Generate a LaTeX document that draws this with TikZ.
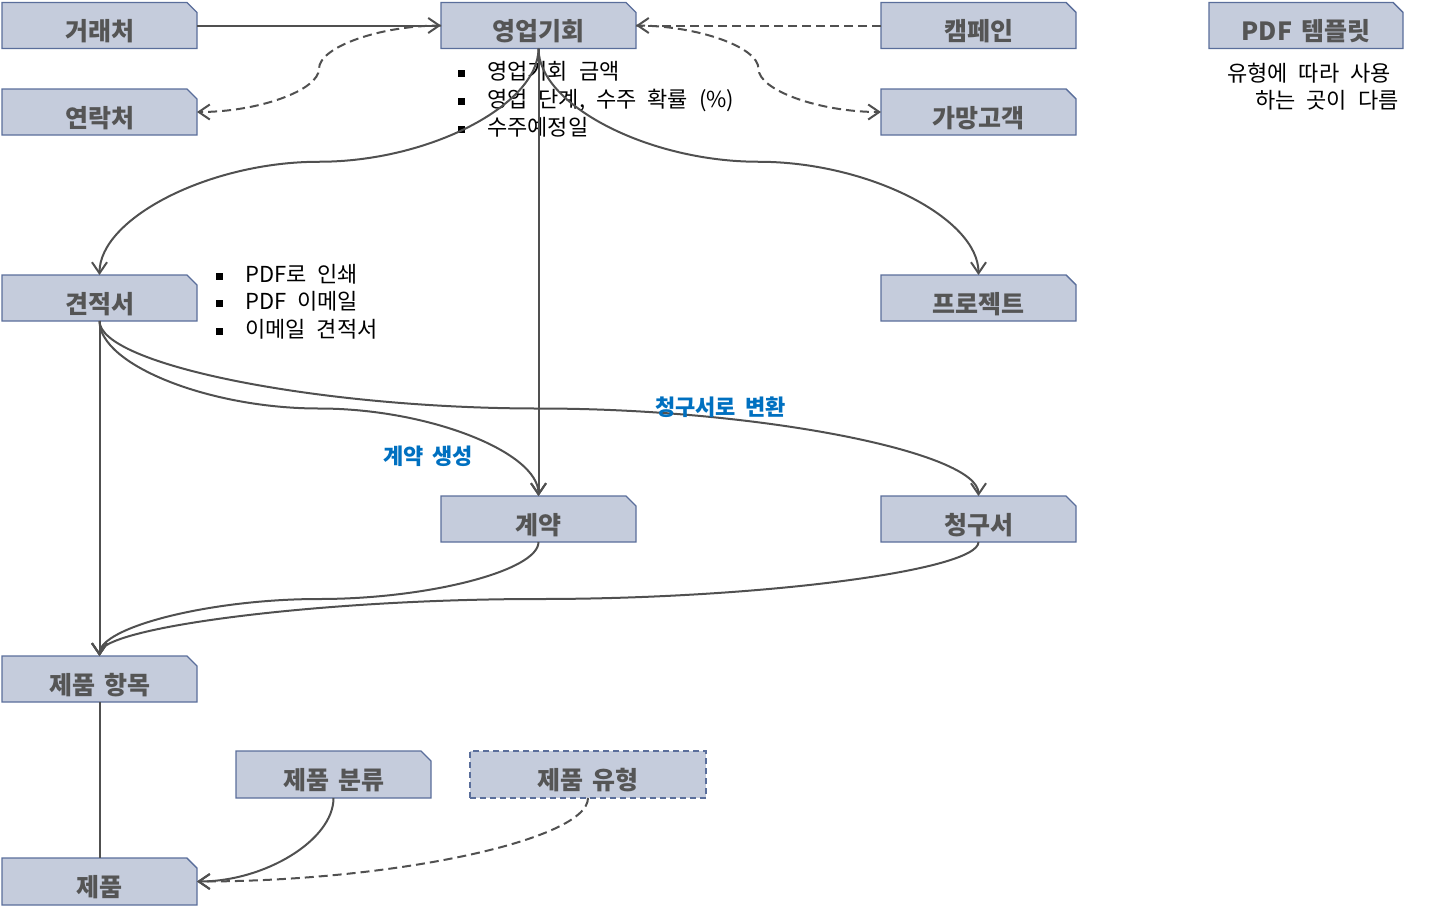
\documentclass[tikz,border=0pt]{standalone}
\usepackage{fontspec}
\setmainfont{Noto Sans CJK KR}
\usetikzlibrary{shapes.misc,arrows.meta}
\definecolor{boxfill}{RGB}{197,204,220}
\definecolor{boxline}{RGB}{90,110,155}
\definecolor{boxtext}{RGB}{85,85,85}
\definecolor{conn}{RGB}{80,80,80}
\definecolor{lblue}{RGB}{0,112,192}
\newcommand{\boxfont}{\fontsize{25}{27}\selectfont\bfseries\spaceskip 9pt plus 1pt\relax}
\newcommand{\notefont}{\fontsize{22}{24}\selectfont\spaceskip 11pt plus 1pt\relax}
\newcommand{\bluefont}{\fontsize{22}{24}\selectfont\bfseries\spaceskip 9pt plus 1pt\relax}
\tikzset{
  entity/.style={chamfered rectangle, chamfered rectangle corners=north east,
    chamfered rectangle sep=5pt, draw=boxline, fill=boxfill, line width=1.4pt,
    minimum width=195pt, minimum height=46pt, inner sep=0pt, outer sep=0pt,
    text height=30pt, text depth=0pt,
    text=boxtext, font=\boxfont},
  dashedentity/.style={rectangle, draw=boxline, fill=boxfill, line width=1.4pt,
    dash pattern=on 6pt off 4pt,
    minimum width=236pt, minimum height=47pt, inner sep=0pt, outer sep=0pt,
    text height=30pt, text depth=0pt,
    text=boxtext, font=\boxfont},
  link/.style={draw=conn, line width=2pt},
  arr/.style={-{Straight Barb[length=11pt,width=15pt,line width=2pt]}},
  dlink/.style={link, dash pattern=on 9pt off 5pt},
  note/.style={anchor=base west, inner sep=0pt, font=\notefont},
  blue/.style={anchor=base west, inner sep=0pt, text=lblue, font=\bluefont},
}
\newcommand{\blt}[1]{\makebox[#1][l]{\rule[2pt]{7pt}{7pt}}}
\begin{document}
\begin{tikzpicture}[x=1pt,y=-1pt]
\useasboundingbox (0,0) rectangle (1431,908);
% entities
\node[entity] (dealer) at (99.5,25.5) {거래처};
\node[entity] (contact) at (99.5,112) {연락처};
\node[entity] (opp) at (538.5,25.5) {영업기회};
\node[entity] (camp) at (978.5,25.5) {캠페인};
\node[entity] (lead) at (978.5,112) {가망고객};
\node[entity, minimum width=194pt] (pdf) at (1306,25.5) {PDF 템플릿};
\node[entity] (quote) at (99.5,298) {견적서};
\node[entity] (proj) at (978.5,298) {프로젝트};
\node[entity] (contract) at (538.5,519) {계약};
\node[entity] (invoice) at (978.5,519) {청구서};
\node[entity] (item) at (99.5,679) {제품 항목};
\node[entity, minimum height=47pt] (cat) at (333.5,774.5) {제품 분류};
\node[dashedentity] (ptype) at (588,774.5) {제품 유형};
\node[entity, minimum height=47pt] (prod) at (99.5,881.5) {제품};
% notes
\node[note] (o1) at (458,79) {\blt{29pt}영업기회 금액};
\node[note] (o2) at (458,107) {\blt{29pt}영업 단계, 수주 확률 (\%)};
\node[note] (o3) at (458,135) {\blt{29pt}수주예정일};
\node[note] (q1) at (216,282) {\blt{29pt}PDF로 인쇄};
\node[note] (q2) at (216,309) {\blt{29pt}PDF 이메일};
\node[note] (q3) at (216,337) {\blt{29pt}이메일 견적서};
\node[note] (p1) at (1227,81) {유형에 따라 사용};
\node[note] (p2) at (1255,108) {하는 곳이 다름};
% connectors
\draw[link,arr] (dealer.east) -- (opp.west);
\draw[dlink,arr] (opp.west) .. controls (380,25.5) and (319,47) .. (319,68.75)
  .. controls (319,90.4) and (258,112) .. (contact.east);
\draw[dlink,arr] (camp.west) -- (opp.east);
\draw[dlink,arr] (opp.east) .. controls (697.25,25.5) and (758.5,47) .. (758.5,68.75)
  .. controls (758.5,90.4) and (819.75,112) .. (lead.west);
\draw[link,arr] (opp.south) .. controls (538.5,105) and (428.75,161.75) .. (319,161.75)
  .. controls (209.25,161.75) and (99.5,218.4) .. (quote.north);
\draw[link,arr] (opp.south) .. controls (538.5,105) and (648.5,161.75) .. (758.5,161.75)
  .. controls (868.5,161.75) and (978.5,218.4) .. (proj.north);
\draw[link,arr] (opp.south) -- (contract.north);
\draw[link,arr] (quote.south) .. controls (99.5,364.75) and (209.25,408.5) .. (319,408.5)
  .. controls (428.75,408.5) and (538.5,452.25) .. (contract.north);
\draw[link,arr] (quote.south) .. controls (99.5,364.75) and (319.25,408.5) .. (539,408.5)
  .. controls (758.75,408.5) and (978.5,452.25) .. (invoice.north);
\draw[link,arr] (quote.south) -- (item.north);
\draw[link,arr] (contract.south) .. controls (538.5,570.5) and (428.75,599) .. (319,599)
  .. controls (209.25,599) and (99.5,627.5) .. (item.north);
\draw[link,arr] (invoice.south) .. controls (978.5,570.5) and (758.75,599) .. (539,599)
  .. controls (319.25,599) and (99.5,627.5) .. (item.north);
\draw[link] (item.south) -- (prod.north);
\draw[link,arr] (cat.south) .. controls (333.5,840) and (265,881.5) .. (prod.east);
\draw[dlink,arr] (ptype.south) .. controls (588,840) and (392.5,881.5) .. (prod.east);
% labels
\node[blue] (l1) at (383,464) {계약 생성};
\node[blue] (l2) at (655,415) {청구서로 변환};
\end{tikzpicture}
\end{document}
